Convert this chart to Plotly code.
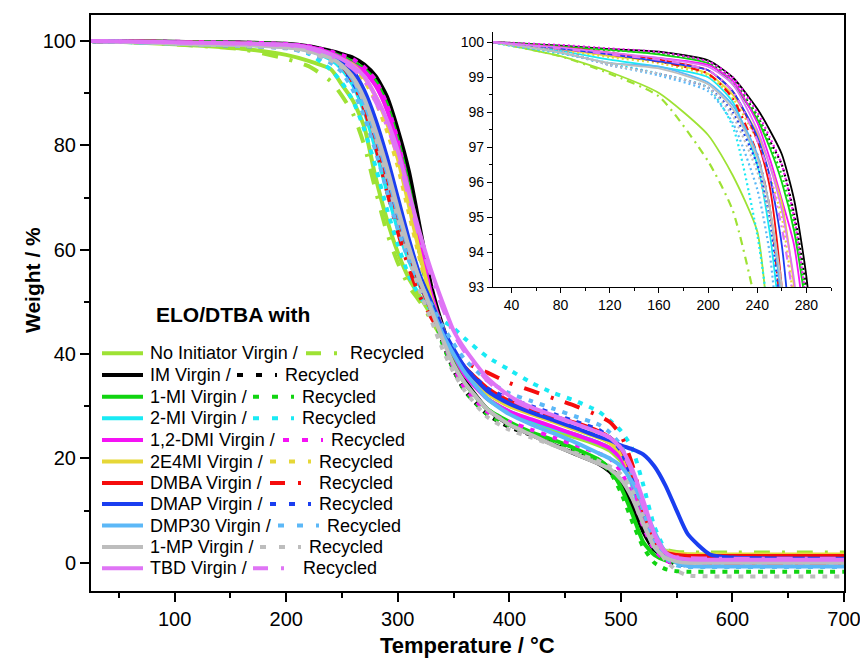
import plotly.graph_objects as go

# ---------------- data ----------------
temperature = [25, 40, 80, 120, 160, 200, 220, 240, 250, 260, 270, 280, 290, 300, 310, 320, 330, 340,
               350, 360, 380, 400, 420, 440, 460, 480, 490, 500, 510, 520, 530, 540, 550, 560, 580, 600, 700]

noinit_virgin = [100, 99.9, 99.6, 99.15, 98.55, 97.35, 96.2, 94.6, 91.6, 88.5, 83.5, 74, 66, 59.5, 54.5, 51, 47.5, 44, 40.5, 37, 31.5, 28.8, 26.8, 25.2, 24, 22.5, 21.5, 19.5, 15, 8.5, 3.8, 2.2, 1.7, 1.6, 1.5, 1.5, 1.5]
noinit_recycled = [100, 99.9, 99.6, 99.1, 98.45, 96.6, 95.2, 92.3, 89.5, 86, 80, 71.5, 63.5, 57.5, 53, 50, 46.5, 43, 39.5, 36.5, 31.5, 29, 27.2, 25.8, 24.5, 23, 22, 20, 15.5, 9, 4, 2.5, 2.1, 2.0, 2.0, 2.0, 2.0]
im_virgin = [100, 99.98, 99.9, 99.8, 99.73, 99.48, 99.0, 98.1, 97.5, 96.8, 95.5, 93.3, 89.5, 83, 75, 64, 53, 45.5, 39.5, 35, 29.5, 26.5, 24.5, 22.6, 20.8, 19, 17.5, 15, 11, 6, 2.5, 1.2, 0.8, 0.6, 0.5, 0.5, 0.5]
im_recycled = [100, 99.97, 99.88, 99.78, 99.7, 99.42, 98.9, 97.9, 97.2, 96.5, 95.1, 92.9, 88.5, 81, 71, 60, 50, 42.5, 37, 33, 28.5, 26, 24.5, 22.8, 21, 19.5, 18.2, 16, 12, 6.5, 2.5, 0.5, -0.3, -0.5, -0.5, -0.5, -0.5]
mi1_virgin = [100, 99.97, 99.88, 99.78, 99.65, 99.4, 98.8, 97.8, 97.0, 96.0, 94.6, 92.3, 88, 81, 72, 61, 51, 44, 38.5, 34.5, 29.5, 27, 25, 23.5, 21.8, 19.8, 18, 14.5, 9.5, 4, 1.5, 0.5, 0.2, 0.2, 0.2, 0.2, 0.2]
mi1_recycled = [100, 99.97, 99.88, 99.78, 99.68, 99.45, 98.9, 97.9, 97.1, 96.2, 94.8, 92.6, 87.5, 80, 70, 59, 49.5, 42, 37, 33, 28.5, 26.3, 24.8, 23.2, 21.5, 19.5, 17.5, 13.5, 8, 3, 0, -1.2, -1.6, -1.7, -1.7, -1.7, -1.7]
mi2_virgin = [100, 99.93, 99.75, 99.5, 99.3, 99.0, 98.3, 96.5, 94.6, 91.5, 86.5, 79.5, 71.5, 64, 58, 53, 48.5, 44, 40, 36.5, 31.5, 29, 27.3, 25.8, 24.5, 23, 22, 20, 15, 8, 3, 1, 0.3, 0, 0, 0, 0]
mi2_recycled = [100, 99.9, 99.68, 99.4, 99.1, 98.7, 97.6, 94.5, 92.0, 88.5, 83, 76, 68, 61, 55, 51, 48.5, 46.5, 45, 43, 39.5, 37, 34.5, 32.5, 31, 29, 27.3, 25.3, 22, 15, 7, 2.5, 0.8, 0.2, 0, 0, 0]
dmi_virgin = [100, 99.96, 99.8, 99.65, 99.55, 99.35, 98.9, 97.7, 96.7, 95.5, 94.2, 91.5, 87, 80, 71, 61, 51.5, 45, 40, 36, 31.5, 29, 27.5, 26, 24.5, 23, 22, 20, 15.5, 9, 4, 1.5, 0.8, 0.6, 0.5, 0.5, 0.5]
dmi_recycled = [100, 99.98, 99.92, 99.82, 99.72, 99.45, 99.0, 98.0, 97.3, 96.5, 95.0, 92.5, 88, 81, 71, 60, 50, 43, 37.5, 33.5, 29, 27, 25.5, 24, 22.5, 21, 20, 17.5, 13, 7, 2.5, 0.5, -0.2, -0.3, -0.3, -0.3, -0.3]
e4mi_virgin = [100, 99.95, 99.8, 99.6, 99.45, 99.1, 98.5, 97.4, 96.5, 95.4, 93.0, 89.5, 84.5, 77.5, 68.5, 59, 50.5, 45, 40.5, 37, 32.5, 30, 28.5, 27, 25.5, 24, 23, 21, 16.5, 10, 4.5, 2.3, 1.8, 1.6, 1.6, 1.6, 1.6]
e4mi_recycled = [100, 99.95, 99.78, 99.57, 99.4, 99.05, 98.4, 97.2, 96.2, 95.0, 92.5, 88.5, 83, 76, 67, 58, 50, 45, 41, 37.5, 33, 30.5, 29, 27.5, 26, 24.5, 23.5, 21.5, 17, 10.5, 5, 2, 1.4, 1.2, 1.2, 1.2, 1.2]
dmba_virgin = [100, 99.96, 99.85, 99.7, 99.5, 99.2, 98.6, 97.2, 95.9, 93.0, 88.5, 81.5, 74, 66.5, 59.5, 53.5, 48.5, 44.5, 40.5, 37.5, 33.5, 31, 29.5, 28, 26.8, 25.2, 24, 22, 17, 10, 4.5, 2, 1.5, 1.3, 1.3, 1.3, 1.3]
dmba_recycled = [100, 99.95, 99.82, 99.65, 99.45, 99.1, 98.4, 96.8, 95.3, 92.0, 87, 80, 71.5, 63.5, 56.5, 51, 47, 43.5, 40.5, 38.5, 36.5, 34.5, 33, 31.5, 30, 28.2, 27, 24.5, 19, 11, 4, 1, 0, -0.3, -0.3, -0.3, -0.3]
dmap_virgin = [100, 99.96, 99.82, 99.65, 99.45, 99.2, 98.6, 97.3, 96.2, 94.2, 90.5, 85, 78, 70, 62, 55, 50, 45, 41, 37.5, 33, 30.5, 28.8, 27.3, 25.8, 24.2, 23.5, 22.5, 21.8, 20.8, 18.5, 14.8, 10, 5.5, 1.6, 1.0, 0.8]
dmap_recycled = [100, 99.93, 99.75, 99.35, 99.1, 98.7, 98.0, 96.5, 95.0, 92.0, 88, 82, 74, 66, 59, 53, 48.5, 44, 40.5, 37.5, 33.5, 31.5, 30, 28.5, 27, 25.5, 24, 21.5, 16, 9, 3.5, 1.2, 0.5, 0.3, 0.3, 0.3, 0.3]
dmp30_virgin = [100, 99.93, 99.7, 99.4, 99.3, 98.85, 98.2, 96.8, 95.3, 92.5, 88, 82, 75, 67, 60, 54, 49, 44, 40, 36.5, 31.5, 28.5, 26.5, 24.8, 23, 21, 20, 18.5, 15.5, 11, 6, 2, 0, -0.6, -0.7, -0.7, -0.7]
dmp30_recycled = [100, 99.9, 99.7, 99.35, 99.05, 98.6, 97.7, 95.8, 94.0, 90.5, 85.5, 79, 71.5, 64, 58, 53.5, 49.5, 45.5, 42, 39, 35, 32.5, 31, 29.5, 28, 26.5, 25, 22.5, 17, 10, 4, 1, -0.5, -0.8, -0.8, -0.8, -0.8]
mp1_virgin = [100, 99.93, 99.7, 99.4, 99.25, 98.8, 98.1, 96.7, 95.3, 93.0, 89, 83, 76, 68, 60.5, 54, 48.5, 43, 38, 34.5, 29.5, 26.5, 24.5, 22.5, 20.8, 19, 18, 16, 12.5, 7.5, 3, 1, 0.3, 0, 0, 0, 0]
mp1_recycled = [100, 99.92, 99.75, 99.35, 99.1, 98.7, 97.9, 96.3, 95.0, 93.0, 88, 81.5, 74, 66, 58.5, 52, 46.5, 41, 36.5, 33, 28, 25.5, 24, 22.5, 21, 19.5, 18.5, 17, 14, 9, 4, 0.5, -1.5, -2.4, -2.6, -2.6, -2.6]
tbd_virgin = [100, 99.96, 99.85, 99.7, 99.55, 99.3, 98.8, 97.5, 96.5, 95.2, 93.2, 89.5, 85, 79, 71, 63, 56, 50, 44.5, 41, 35.5, 32, 29.8, 28.2, 26.6, 25, 24, 22, 18, 12, 5.5, 2, 1, 0.7, 0.6, 0.6, 0.6]
tbd_recycled = [100, 99.95, 99.82, 99.65, 99.5, 99.2, 98.6, 97.2, 96.2, 94.7, 92.5, 88.5, 84, 78, 70, 62, 55, 49, 44, 40.5, 35, 31.5, 29.5, 28, 26.5, 25, 24, 22, 17.5, 11, 5, 2, 1.1, 0.9, 0.8, 0.8, 0.8]

series_names = ["No Initiator", "IM", "1-MI", "2-MI", "1,2-DMI", "2E4MI", "DMBA", "DMAP", "DMP30", "1-MP", "TBD"]
virgin = [noinit_virgin, im_virgin, mi1_virgin, mi2_virgin, dmi_virgin, e4mi_virgin, dmba_virgin, dmap_virgin, dmp30_virgin, mp1_virgin, tbd_virgin]
recycled = [noinit_recycled, im_recycled, mi1_recycled, mi2_recycled, dmi_recycled, e4mi_recycled, dmba_recycled, dmap_recycled, dmp30_recycled, mp1_recycled, tbd_recycled]

# ---------------- styles ----------------
colors = ["#9ee234", "#000000", "#11d411", "#19eaf4", "#f512f5", "#e6d737", "#f50c0c", "#1a3ef0", "#5cb8f7", "#bdbdbd", "#df74f5"]
DOT_MAIN = "5px,7px"
DASHDOT_MAIN = "16px,12px,3px,12px"
DOT_LEGEND = "6px,13px"
DASHDOT_LEGEND = "15px,13px,3px,13px"
DOT_INSET = "2px,3px"
DASHDOT_INSET = "8px,5px,2px,5px"
dashdot_set = {"No Initiator", "DMBA", "TBD"}

W, H = 860, 659
L, R, T, B = 91, 16, 15, 68
PW, PH = W - L - R, H - T - B


def px(x):
    return (x - L) / PW


def py(y):
    return (H - B - y) / PH


fig = go.Figure()

for name, c, v, r in zip(series_names, colors, virgin, recycled):
    dd = name in dashdot_set
    fig.add_trace(go.Scatter(x=temperature, y=v, mode="lines", line=dict(color=c, width=4, shape="spline", smoothing=0.6),
                             xaxis="x", yaxis="y", showlegend=False, hoverinfo="skip"))
    fig.add_trace(go.Scatter(x=temperature, y=r, mode="lines",
                             line=dict(color=c, width=4, dash=DASHDOT_MAIN if dd else DOT_MAIN, shape="spline", smoothing=0.6),
                             xaxis="x", yaxis="y", showlegend=False, hoverinfo="skip"))
    fig.add_trace(go.Scatter(x=temperature, y=v, mode="lines", line=dict(color=c, width=1.8, shape="spline", smoothing=0.6),
                             xaxis="x2", yaxis="y2", showlegend=False, hoverinfo="skip"))
    fig.add_trace(go.Scatter(x=temperature, y=r, mode="lines",
                             line=dict(color=c, width=2.2, dash=DASHDOT_INSET if dd else DOT_INSET, shape="spline", smoothing=0.6),
                             xaxis="x2", yaxis="y2", showlegend=False, hoverinfo="skip"))

FONT = "Arial, Liberation Sans, sans-serif"

fig.update_layout(
    width=W, height=H,
    margin=dict(l=L, r=R, t=T, b=B, autoexpand=False),
    paper_bgcolor="white", plot_bgcolor="white",
    font=dict(family=FONT, color="black"),
    xaxis=dict(domain=[0, 1], range=[25, 700], showline=True, linewidth=2, linecolor="black", mirror=True,
               ticks="outside", ticklen=9, tickwidth=2, tickcolor="black", dtick=100, tick0=0, automargin=False,
               tickfont=dict(size=20, family=FONT), showgrid=False, zeroline=False, ticklabeloverflow="allow",
               minor=dict(dtick=50, tick0=0, ticks="outside", ticklen=5, tickwidth=2, tickcolor="black")),
    yaxis=dict(domain=[0, 1], range=[-5.4, 105], showline=True, linewidth=2, linecolor="black", mirror=True,
               ticks="outside", ticklen=9, tickwidth=2, tickcolor="black", dtick=20, tick0=0, automargin=False,
               tickfont=dict(size=20, family=FONT), showgrid=False, zeroline=False,
               minor=dict(dtick=10, tick0=0, ticks="outside", ticklen=5, tickwidth=2, tickcolor="black")),
    xaxis2=dict(domain=[px(493), px(831)], anchor="y2", range=[25, 300], showline=True, linewidth=1.3, linecolor="black",
                ticks="outside", ticklen=5, tickwidth=1.3, tickcolor="black", tickvals=[40, 80, 120, 160, 200, 240, 280],
                tickfont=dict(size=14, family=FONT), showgrid=False, zeroline=False, automargin=False,
                minor=dict(tickvals=[60, 100, 140, 180, 220, 260, 300], ticks="outside", ticklen=3, tickwidth=1.3, tickcolor="black")),
    yaxis2=dict(domain=[py(287.3), py(31.7)], anchor="x2", range=[93, 100.3], showline=True, linewidth=1.3, linecolor="black",
                ticks="outside", ticklen=5, tickwidth=1.3, tickcolor="black", dtick=1, tick0=0, automargin=False,
                tickfont=dict(size=14, family=FONT), showgrid=False, zeroline=False,
                minor=dict(dtick=0.5, tick0=0, ticks="outside", ticklen=3, tickwidth=1.3, tickcolor="black")),
)

annotations = []
shapes = []

annotations.append(dict(text="<b>Temperature / °C</b>", xref="paper", yref="paper", x=0.5, y=py(645),
                        xanchor="center", yanchor="middle", showarrow=False, font=dict(size=22, family=FONT)))
annotations.append(dict(text="<b>Weight / %</b>", xref="paper", yref="paper", x=px(32), y=py(280), textangle=-90,
                        xanchor="center", yanchor="middle", showarrow=False, font=dict(size=21, family=FONT)))
annotations.append(dict(text="<b>ELO/DTBA with</b>", xref="paper", yref="paper", x=px(154), y=py(314),
                        xanchor="left", yanchor="middle", showarrow=False, font=dict(size=21, family=FONT)))

row_y = [353.3, 375.0, 396.8, 418.3, 440.0, 461.5, 483.0, 504.0, 525.5, 547.0, 568.3]
rec_sample_x = [(306, 338), (237, 277), (253, 294), (253, 294), (283, 323), (270, 311), (270, 302), (270, 311), (278, 319), (260, 301), (253, 285)]
rec_text_x = [348, 283, 300, 300, 329, 317, 317, 317, 325, 307, 301]

for i, (name, c) in enumerate(zip(series_names, colors)):
    yy = py(row_y[i])
    dd = name in dashdot_set
    shapes.append(dict(type="line", xref="paper", yref="paper", x0=px(102), x1=px(143), y0=yy, y1=yy,
                       line=dict(color=c, width=4)))
    annotations.append(dict(text=f"{name} Virgin /", xref="paper", yref="paper", x=px(148), y=yy,
                            xanchor="left", yanchor="middle", showarrow=False, font=dict(size=18, family=FONT)))
    x0, x1 = rec_sample_x[i]
    shapes.append(dict(type="line", xref="paper", yref="paper", x0=px(x0), x1=px(x1), y0=yy, y1=yy,
                       line=dict(color=c, width=4, dash=DASHDOT_LEGEND if dd else DOT_LEGEND)))
    annotations.append(dict(text="Recycled", xref="paper", yref="paper", x=px(rec_text_x[i]), y=yy,
                            xanchor="left", yanchor="middle", showarrow=False, font=dict(size=18, family=FONT)))

fig.update_layout(annotations=annotations, shapes=shapes)

fig.write_html("out.html", config={"displayModeBar": False})

# remove the default page margin so the figure starts at the window's top-left corner
with open("out.html", "r", encoding="utf-8") as f:
    html = f.read()
html = html.replace("<head>", "<head><style>html,body{margin:0;padding:0;overflow:hidden;}</style>", 1)
with open("out.html", "w", encoding="utf-8") as f:
    f.write(html)
